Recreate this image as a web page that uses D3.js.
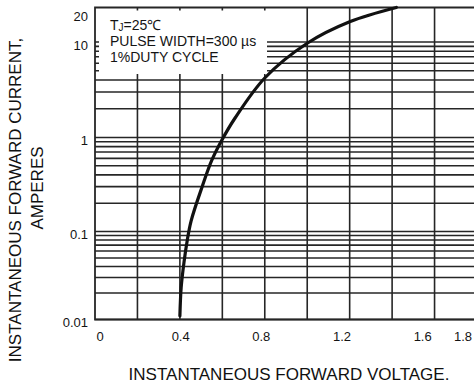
<!DOCTYPE html>
<html>
<head>
    <script type="text/javascript" src="https://d3js.org/d3.v7.min.js"></script>
    <style>
        body { margin: 0; background: white; }
        text { font-family: "Liberation Sans", Arial, sans-serif; }
    </style>
</head>
<body>
    <div id="chart"></div>
    <script type="text/javascript">
        // data
        const voltage = [0.40, 0.406, 0.419, 0.435, 0.453, 0.505, 0.55, 0.598, 0.66, 0.80, 1.00, 1.20, 1.42];
        const current = [0.011, 0.023, 0.044, 0.080, 0.13, 0.30, 0.57, 0.94, 1.6, 4.2, 9.7, 16.3, 23];

        const xTickValues = [0, 0.4, 0.8, 1.2, 1.6, 1.8];
        const xTickLabels = ["0", "0.4", "0.8", "1.2", "1.6", "1.8"];
        const xGridValues = [0.2, 0.4, 0.6, 0.8, 1.0, 1.2, 1.4, 1.6, 1.8];

        const yTickValues = [0.01, 0.1, 1, 10, 20];
        const yTickLabels = ["0.01", "0.1", "1", "10", "20"];
        const decades = [0.01, 0.1, 1];
        const minorSteps = [1, 2, 3, 4, 5, 6, 7, 8, 9];

        const legendLines = ["PULSE WIDTH=300 \u00b5s", "1%DUTY CYCLE"];

        // layout
        const width = 474, height = 385;
        const gridColor = "#262626";

        const x = d3.scaleLinear().domain([0, 1.8]).range([95, 477]);
        // tick labels in the original sit a little off the grid lines
        const xLabel = d3.scaleLinear().domain([0, 1.8]).range([100, 463]);
        // scanned log paper: decades are not quite equal
        const y = d3.scaleLog()
            .domain([0.01, 0.1, 1, 10, 23])
            .range([319.5, 231.5, 137.5, 42, 7.5]);

        let yGridValues = [];
        decades.forEach(d => minorSteps.forEach(k => yGridValues.push(d * k)));
        yGridValues.push(10);

        const svg = d3.select("#chart")
            .append("svg")
            .attr("width", width)
            .attr("height", height)
            .style("background-color", "white");

        const x0 = x(0), yTop = y(23), yBottom = y(0.01);

        // horizontal grid
        svg.selectAll("line.hgrid")
            .data(yGridValues)
            .enter()
            .append("line")
            .attr("class", "hgrid")
            .attr("x1", x0)
            .attr("x2", x(1.8))
            .attr("y1", d => y(d))
            .attr("y2", d => y(d))
            .style("stroke", gridColor)
            .style("stroke-width", 1.6);

        // vertical grid
        svg.selectAll("line.vgrid")
            .data(xGridValues)
            .enter()
            .append("line")
            .attr("class", "vgrid")
            .attr("x1", d => x(d))
            .attr("x2", d => x(d))
            .attr("y1", yTop)
            .attr("y2", yBottom)
            .style("stroke", gridColor)
            .style("stroke-width", 1.6);

        // frame: left, top, bottom
        svg.append("path")
            .attr("d", `M ${x(1.8)} ${yTop} L ${x0} ${yTop} L ${x0} ${yBottom} L ${x(1.8)} ${yBottom}`)
            .style("fill", "none")
            .style("stroke", gridColor)
            .style("stroke-width", 1.8);

        // white legend box over the grid, leaving tick stubs
        svg.append("rect")
            .attr("x", x0 + 4)
            .attr("y", yTop + 3)
            .attr("width", 267 - (x0 + 4))
            .attr("height", 74 - (yTop + 3))
            .style("fill", "white");

        // curve
        const points = voltage.map((v, i) => [v, current[i]]);
        const line = d3.line()
            .x(d => x(d[0]))
            .y(d => y(d[1]))
            .curve(d3.curveCatmullRom.alpha(0.5));

        svg.append("path")
            .datum(points)
            .attr("d", line)
            .style("fill", "none")
            .style("stroke", "#111")
            .style("stroke-width", 3.2)
            .style("stroke-linecap", "round");

        // y tick labels
        svg.selectAll("text.ylab")
            .data(yTickValues)
            .enter()
            .append("text")
            .attr("class", "ylab")
            .attr("x", 88)
            .attr("y", d => y(d) + 3)
            .attr("dy", "0.35em")
            .attr("text-anchor", "end")
            .style("font-size", "13px")
            .style("fill", "#141414")
            .text((d, i) => yTickLabels[i]);

        // x tick labels
        svg.selectAll("text.xlab")
            .data(xTickValues)
            .enter()
            .append("text")
            .attr("class", "xlab")
            .attr("x", d => xLabel(d))
            .attr("y", 341)
            .attr("text-anchor", "middle")
            .style("font-size", "13px")
            .style("fill", "#141414")
            .text((d, i) => xTickLabels[i]);

        // legend text
        const tj = svg.append("text")
            .attr("x", 110)
            .attr("y", 29.5)
            .style("font-size", "14px")
            .style("fill", "#141414");
        tj.append("tspan").text("T");
        tj.append("tspan").attr("dy", 1).style("font-size", "10px").text("J");
        tj.append("tspan").attr("dy", -1).text("=25\u2103");

        svg.selectAll("text.legend")
            .data(legendLines)
            .enter()
            .append("text")
            .attr("class", "legend")
            .attr("x", 110)
            .attr("y", (d, i) => 45.5 + i * 16)
            .style("font-size", "14px")
            .style("fill", "#141414")
            .text(d => d);

        // axis titles
        svg.append("text")
            .attr("x", 289)
            .attr("y", 380)
            .attr("text-anchor", "middle")
            .style("font-size", "17px")
            .style("fill", "#111")
            .text("INSTANTANEOUS FORWARD VOLTAGE.");

        svg.append("text")
            .attr("transform", "translate(21,200) rotate(-90)")
            .attr("text-anchor", "middle")
            .style("font-size", "17px")
            .style("fill", "#111")
            .text("INSTANTANEOUS FORWARD CURRENT,");

        svg.append("text")
            .attr("transform", "translate(43,188) rotate(-90)")
            .attr("text-anchor", "middle")
            .style("font-size", "17px")
            .style("fill", "#111")
            .text("AMPERES");
    </script>
</body>
</html>
